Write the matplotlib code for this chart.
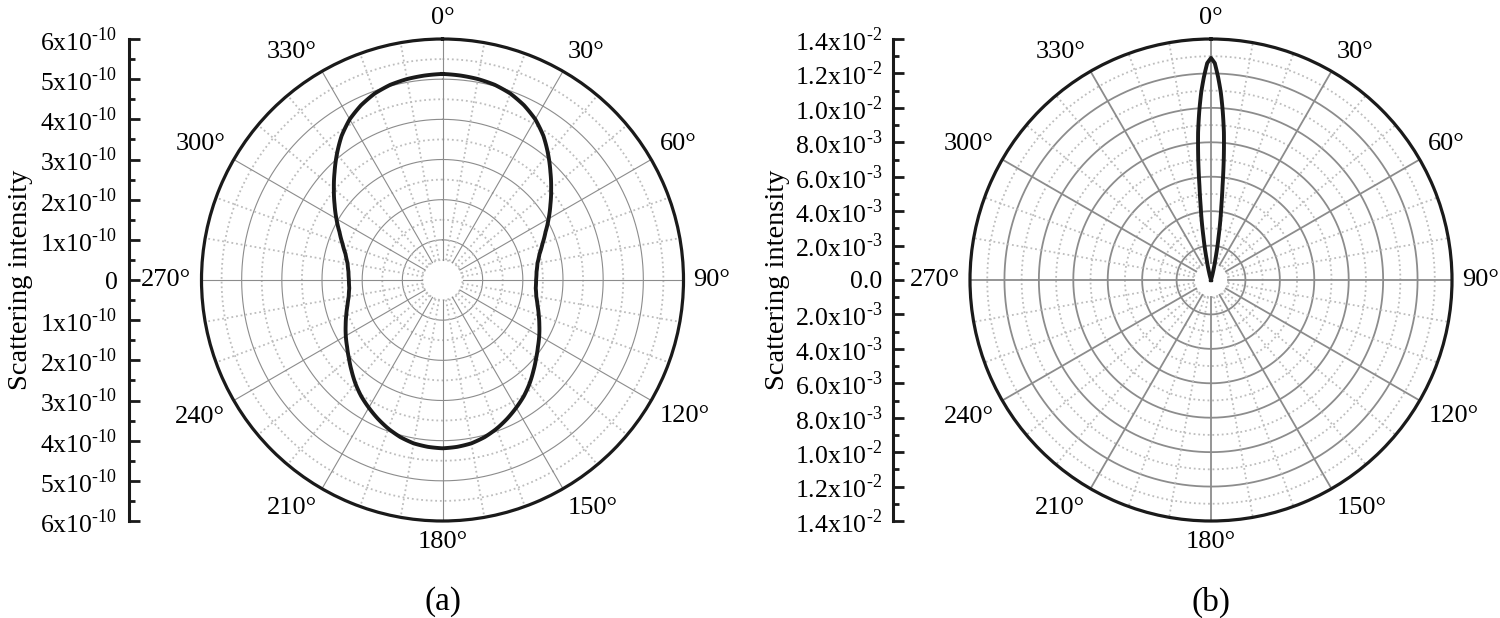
import numpy as np
import matplotlib
matplotlib.use('Agg')
import matplotlib.pyplot as plt

plt.rcParams['font.family'] = ['Liberation Serif', 'DejaVu Serif']
plt.rcParams['mathtext.fontset'] = 'custom'
plt.rcParams['mathtext.rm'] = 'Liberation Serif'

# panel (a): scattering pattern every 5 degrees, values in units of 1e-10
angles_a = list(range(0, 365, 5))
intensity_a = [5.13, 5.11, 5.08, 5.03, 4.94, 4.80, 4.62, 4.38, 4.09, 3.80, 3.53, 3.28, 3.05,
               2.83, 2.65, 2.50, 2.40, 2.35, 2.33, 2.33, 2.37, 2.45, 2.55, 2.66, 2.78, 2.90,
               3.04, 3.20, 3.37, 3.53, 3.67, 3.81, 3.94, 4.05, 4.13, 4.17, 4.19,
               4.17, 4.13, 4.05, 3.94, 3.81, 3.67, 3.53, 3.37, 3.20, 3.04, 2.90, 2.78, 2.66,
               2.55, 2.45, 2.37, 2.33, 2.33, 2.35, 2.40, 2.50, 2.65, 2.83, 3.05, 3.28, 3.53,
               3.80, 4.09, 4.38, 4.62, 4.80, 4.94, 5.03, 5.08, 5.11, 5.13]

# panel (b): narrow forward lobe, values in units of 1e-2
angles_b = [-20, -16, -14, -12, -10, -9, -8, -7, -6, -5, -4, -3, -2, -1, 0,
            1, 2, 3, 4, 5, 6, 7, 8, 9, 10, 12, 14, 16, 20, 90, 180, 270, 340]
intensity_b = [0.0, 0.01, 0.05, 0.12, 0.25, 0.34, 0.43, 0.55, 0.71, 0.86, 0.98, 1.09, 1.18, 1.26, 1.29,
               1.26, 1.18, 1.09, 0.98, 0.86, 0.71, 0.55, 0.43, 0.34, 0.25, 0.12, 0.05, 0.01, 0.0,
               0.0, 0.0, 0.0, 0.0]

# tick labels for the side axes (symmetric about the centre)
HY = '\u2010'
ticks_a = [6, 5, 4, 3, 2, 1, 0, 1, 2, 3, 4, 5, 6]
labels_a = ['%dx10$^{\\mathregular{%s10}}$' % (t, HY) if t else '0' for t in ticks_a]
mant_b = ['1.4', '1.2', '1.0', '8.0', '6.0', '4.0', '2.0', '0.0',
          '2.0', '4.0', '6.0', '8.0', '1.0', '1.2', '1.4']
exp_b = [2, 2, 2, 3, 3, 3, 3, 0, 3, 3, 3, 3, 2, 2, 2]
labels_b = [m + ('x10$^{\\mathregular{%s%d}}$' % (HY, e) if e else '') for m, e in zip(mant_b, exp_b)]

W, H = 1500, 618
R = 241
fig = plt.figure(figsize=(15, 6.18), dpi=100)


def side_axis(x_spine, cy, rmax, labels, step, label_x):
    ax = fig.add_axes([x_spine / W, (H - cy - R) / H, 0.01, 2 * R / H])
    pos = [rmax - i * step for i in range(len(labels))]
    ax.set_ylim(-rmax, rmax)
    ax.set_yticks(pos, labels=labels)
    ax.set_yticks(np.arange(-rmax, rmax + step / 4, step / 2), minor=True)
    ax.set_xticks([])
    for s in ['top', 'right', 'bottom']:
        ax.spines[s].set_visible(False)
    ax.spines['left'].set_linewidth(2.2)
    ax.spines['left'].set_color('#1a1a1a')
    ax.tick_params(axis='y', which='major', direction='in', length=8, width=2,
                   color='#1a1a1a', labelsize=18.5, pad=8)
    ax.tick_params(axis='y', which='minor', direction='in', length=4, width=2, color='#1a1a1a')
    ax.patch.set_visible(False)
    ax.set_ylabel('Scattering intensity', fontsize=20.5)
    ax.yaxis.set_label_coords((label_x - x_spine) / 15.0, 0.5)
    return ax


def polar_panel(cx, cy, rmax, step, lw_solid, curve_t, curve_r, tag):
    ax = fig.add_axes([(cx - R) / W, (H - cy - R) / H, 2 * R / W, 2 * R / H], projection='polar')
    ax.set_theta_zero_location('N')
    ax.set_theta_direction(-1)
    ax.set_ylim(0, rmax)
    ax.grid(False)
    ax.set_yticks([])
    ax.set_xticks(np.deg2rad(np.arange(0, 360, 30)))
    ax.set_xticklabels([])
    ax.set_xticks(np.deg2rad(np.arange(0, 360, 10)), minor=True)
    ax.tick_params(axis='x', which='major', direction='in', length=8, width=2, color='#1a1a1a')
    ax.tick_params(axis='x', which='minor', direction='in', length=4, width=1.6, color='#1a1a1a')
    ax.spines['polar'].set_linewidth(2.3)
    ax.spines['polar'].set_color('#1a1a1a')

    full = np.linspace(0, 2 * np.pi, 721)
    hole = step / 2
    n = int(round(rmax / step))
    for i in range(1, n):
        ax.plot(full, np.full_like(full, i * step), color='#8c8c8c', lw=lw_solid, zorder=1)
    for i in range(n):
        ax.plot(full, np.full_like(full, (i + 0.5) * step), color='#bdbdbd', lw=1.3,
                ls=(0, (1, 1.6)), zorder=1)
    for d in range(0, 360, 10):
        t = np.deg2rad(d)
        if d % 30 == 0:
            ax.plot([t, t], [hole, rmax], color='#8c8c8c', lw=lw_solid, zorder=1)
        else:
            ax.plot([t, t], [hole, rmax], color='#bdbdbd', lw=1.3, ls=(0, (1, 1.6)), zorder=1)

    ln, = ax.plot(np.deg2rad(curve_t), curve_r, color='#1a1a1a', lw=2.8, zorder=5,
                  clip_on=False, solid_joinstyle='round')
    # let the polar transform draw each segment as an arc instead of a chord
    ln.get_path()._interpolation_steps = 40

    rlab = rmax * (1 + 10 / R)
    for d in range(0, 360, 30):
        t = np.deg2rad(d)
        s, c = np.sin(t), np.cos(t)
        ha = 'left' if s > 0.1 else ('right' if s < -0.1 else 'center')
        va = 'bottom' if c > 0.1 else ('top' if c < -0.1 else 'center')
        ax.text(t, rlab, '%d°' % d, ha=ha, va=va, fontsize=19)
    fig.text(cx / W, 1 - 602 / H, tag, ha='center', va='center', fontsize=24)
    return ax


rmax_a = 6e-10
side_axis(128.5, 280, rmax_a, labels_a, 1e-10, 33)
polar_panel(442.5, 280, rmax_a, 1e-10, 0.8, angles_a, np.array(intensity_a) * 1e-10, '(a)')

rmax_b = 1.4e-2
side_axis(893, 280, rmax_b, labels_b, 2e-3, 790)
polar_panel(1211, 280, rmax_b, 2e-3, 1.3, angles_b, np.array(intensity_b) * 1e-2, '(b)')

fig.savefig('out.png', dpi=100)
